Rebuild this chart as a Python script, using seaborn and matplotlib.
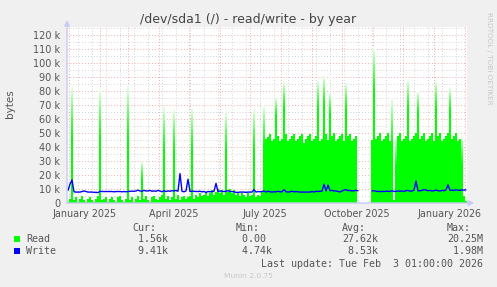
import numpy as np
import pandas as pd
import matplotlib
matplotlib.use("Agg")
import matplotlib.pyplot as plt
import matplotlib.dates as mdates
from matplotlib.patches import Rectangle
import seaborn as sns

# ---------------- data (values in k bytes, one value per 2-day bin) ----------------
bin_start = "2024-12-30"
n_bins = 200
nan = float("nan")

read_k = [
    1, 3, 84, 2, 4, 1, 3, 5, 2, 1,
    3, 4, 2, 1, 3, 5, 82, 2, 3, 4,
    1, 3, 4, 2, 1, 4, 5, 2, 1, 3,
    84, 2, 4, 1, 3, 5, 2, 30, 3, 5,
    2, 1, 4, 5, 3, 2, 4, 6, 69, 3,
    5, 2, 4, 67, 3, 6, 2, 4, 5, 3,
    4, 5, 68, 3, 6, 4, 7, 5, 6, 8,
    5, 7, 9, 6, 8, 10, 7, 9, 6, 66,
    8, 10, 7, 9, 6, 8, 5, 7, 6, 4,
    7, 5, 6, 68, 4, 6, 5, 8, 70, 46,
    47, 49, 44, 46, 75, 48, 44, 46, 87, 49,
    44, 46, 48, 49, 44, 46, 48, 49, 43, 46,
    48, 49, 44, 46, 48, 87, 44, 46, 91, 49,
    45, 79, 48, 50, 44, 46, 48, 49, 44, 86,
    48, 49, 44, 46, 48, 47, nan, nan, nan, nan,
    nan, nan, 45, 111, 46, 48, 50, 44, 46, 48,
    50, 44, 75, 2, 46, 48, 50, 44, 46, 48,
    88, 44, 46, 48, 50, 79, 46, 48, 50, 44,
    46, 48, 50, 44, 88, 48, 50, 44, 46, 48,
    50, 83, 46, 48, 50, 44, 46, 48, 5, 1.56,
]

write_k = [
    9, 13.5, 16.5, 8, 7.8, 7.8, 7.8, 8.2, 8.6, 8.2,
    7.8, 7.8, 7.8, 7.6, 7.6, 7.4, 8.4, 8.2, 8.2, 8.2,
    8.2, 8.2, 8.2, 8.0, 8.2, 8.2, 8.2, 8.0, 8.2, 8.0,
    8.2, 8.4, 8.4, 8.4, 8.6, 9.2, 8.6, 8.4, 9.0, 8.6,
    8.6, 9.0, 8.4, 8.6, 8.4, 9.0, 8.6, 8.0, 8.8, 8.2,
    8.6, 8.4, 8.8, 8.6, 9.0, 8.4, 21, 8.4, 8.0, 8.6,
    17, 8.2, 8.4, 8.4, 8.2, 8.2, 8.4, 8.0, 8.2, 7.6,
    8.2, 8.0, 8.2, 8.4, 14, 8.2, 8.6, 8.4, 8.2, 8.4,
    8.8, 8.2, 8.2, 8.0, 7.6, 7.6, 7.8, 7.8, 7.8, 7.6,
    7.8, 7.8, 7.8, 9.6, 7.8, 8.2, 8.0, 8.2, 8.6, 7.8,
    8.4, 8.0, 7.8, 8.0, 8.0, 8.4, 8.0, 8.0, 9.6, 8.0,
    7.8, 8.0, 8.4, 8.0, 8.2, 8.0, 7.8, 7.8, 7.8, 7.8,
    7.8, 7.8, 8.2, 7.8, 8.4, 8.2, 8.4, 8.4, 13.5, 8.6,
    12.8, 8.8, 9.0, 8.6, 8.6, 8.2, 7.8, 8.6, 9.2, 9.6,
    8.8, 9.0, 8.6, 8.8, 9.0, 8.8, nan, nan, nan, nan,
    nan, nan, 8.6, 8.8, 8.4, 8.2, 8.2, 8.2, 8.2, 8.4,
    8.4, 8.2, 8.8, 8.2, 8.4, 8.6, 8.4, 8.6, 8.2, 8.8,
    9.0, 8.4, 8.6, 9.2, 15.7, 8.6, 8.8, 9.0, 9.6, 9.2,
    8.8, 9.0, 8.6, 8.8, 9.2, 8.8, 8.6, 9.0, 8.8, 9.4,
    13.0, 9.0, 9.2, 9.0, 9.4, 9.2, 9.0, 9.4, 9.2, 9.41,
]

y_ticks_k = [0, 10, 20, 30, 40, 50, 60, 70, 80, 90, 100, 110, 120]
x_label_months = ["2025-01", "2025-04", "2025-07", "2025-10", "2026-01"]
x_label_texts = ["January 2025", "April 2025", "July 2025", "October 2025", "January 2026"]

series_names = ["Read", "Write"]
series_colors = ["#00FF00", "#0000FF"]
stat_headers = ["Cur:", "Min:", "Avg:", "Max:"]
stats_read = [" 1.56k", " 0.00", "27.62k", "20.25M"]
stats_write = [" 9.41k", " 4.74k", " 8.53k", " 1.98M"]
title = "/dev/sda1 (/) - read/write - by year"
last_update = "Last update: Tue Feb  3 01:00:00 2026"

# ---------------- build frame ----------------
starts = pd.date_range(bin_start, periods=n_bins, freq="2D")
centers = starts + pd.Timedelta(days=1)
read = np.array(read_k, dtype=float) * 1000
write = np.array(write_k, dtype=float) * 1000
seg = np.cumsum(np.isnan(write).astype(int))
df = pd.DataFrame({"date": centers, "read": read, "write": write, "seg": seg})
dfw = df.dropna(subset=["write"])

# ---------------- style ----------------
sns.set_theme(style="white")
plt.rcParams["font.family"] = ["DejaVu Sans"]
W, H = 497, 287
BG = "#F0F0F0"
TXT = "#555555"
fig = plt.figure(figsize=(W / 100, H / 100), dpi=100, facecolor=BG)

def fx(x):
    return x / W

def fy(y):
    return 1 - y / H

left, right, top, bottom = 67, 467, 27, 203
ax = fig.add_axes([fx(left), fy(bottom), (right - left) / W, (bottom - top) / H])
ax.set_facecolor("white")
ymax = (bottom - top) / 14 * 10000
x0 = pd.Timestamp(bin_start)
x1 = x0 + pd.Timedelta(days=2 * n_bins)

# grid (behind data)
for yv in range(5000, int(ymax), 5000):
    major = yv % 10000 == 0
    ax.axhline(yv, color="#F2AAAA" if major else "#D4D4D4", lw=0.7,
               ls=(0, (1, 2)), zorder=0.5)
for d in pd.date_range("2025-01-10", x1, freq="14D"):
    ax.axvline(d, color="#D4D4D4", lw=0.7, ls=(0, (1, 2)), zorder=0.5)
month_starts = pd.date_range("2025-01-01", x1, freq="MS")
for d in month_starts:
    ax.axvline(d, color="#F2AAAA", lw=0.7, ls=(0, (1, 2)), zorder=0.6)

# Read area
xs = list(starts) + [x1]
ys = list(read) + [read[-1]]
ax.fill_between(xs, 0, ys, step="post", color=series_colors[0], lw=0, zorder=2)

# fade on spikes
for i in range(n_bins):
    v = read[i]
    if np.isnan(v):
        continue
    nb = [read[j] for j in (i - 1, i + 1) if 0 <= j < n_bins and not np.isnan(read[j])]
    base = min(nb) if nb else 0
    if v - base > 15000:
        fs = base + 0.5 * (v - base)
        grad = np.zeros((64, 1, 4))
        grad[..., :3] = 1.0
        grad[:, 0, 3] = np.linspace(0.97, 0.0, 64) ** 1.3
        e0 = mdates.date2num(starts[i])
        ax.imshow(grad, extent=[e0, e0 + 2, fs, min(v, ymax)], aspect="auto",
                  interpolation="bilinear", zorder=2.5)

# Write line
sns.lineplot(data=dfw, x="date", y="write", units="seg", estimator=None,
             color=series_colors[1], lw=1.0, ax=ax, zorder=3, legend=False)

ax.set_xlim(x0, x1)
ax.set_ylim(0, ymax)
for s in ax.spines.values():
    s.set_visible(False)

# axes lines with arrows
AX = "#C8CCF2"
ax.annotate("", xy=(0, 1.04), xytext=(0, 0), xycoords="axes fraction",
            arrowprops=dict(arrowstyle="-|>", color=AX, lw=1.0, mutation_scale=8,
                            shrinkA=0, shrinkB=0), annotation_clip=False, zorder=5)
ax.annotate("", xy=(1.018, 0), xytext=(0, 0), xycoords="axes fraction",
            arrowprops=dict(arrowstyle="-|>", color=AX, lw=1.0, mutation_scale=8,
                            shrinkA=0, shrinkB=0), annotation_clip=False, zorder=5)

# ticks
ax.set_yticks([v * 1000 for v in y_ticks_k])
ax.set_yticklabels(["0" if v == 0 else f"{v} k" for v in y_ticks_k])
label_pos = [pd.Timestamp(m + "-16") for m in x_label_months]
ax.set_xticks(label_pos)
ax.set_xticklabels(x_label_texts)
ax.set_xticks(month_starts, minor=True)
ax.tick_params(axis="y", length=0, pad=5, labelsize=7, labelcolor=TXT)
ax.tick_params(axis="x", which="major", length=0, pad=4, labelsize=6.9, labelcolor=TXT)
ax.tick_params(axis="x", which="minor", length=2.5, width=0.7, color="#F08080", direction="out")
ax.set_xlabel("")
ax.set_ylabel("")

# texts
fig.text(fx(248), fy(19), title, ha="center", va="center", fontsize=9, color="#444444")
fig.text(fx(10), fy(104), "bytes", ha="center", va="center", rotation=90, fontsize=7.5, color=TXT)
fig.text(fx(489), fy(12), "RRDTOOL / TOBI OETIKER", ha="center", va="top", rotation=270,
         fontsize=5.2, color="#C8C8C8")
fig.text(fx(248), fy(276), "Munin 2.0.75", ha="center", va="center", fontsize=5.4, color="#C8C8C8")

mono = dict(family="DejaVu Sans Mono", fontsize=7.2, color=TXT, va="center", ha="left")
col_x = [132, 236, 342, 447]
for cx, h in zip(col_x, stat_headers):
    fig.text(fx(cx), fy(228), h, **mono)
for row_y, name, col, stats in [(239, series_names[0], series_colors[0], stats_read),
                                (251, series_names[1], series_colors[1], stats_write)]:
    fig.patches.append(Rectangle((fx(14), fy(row_y + 3)), 6 / W, 6 / H, transform=fig.transFigure,
                                 facecolor=col, edgecolor="none", figure=fig))
    fig.text(fx(26), fy(row_y), name, **mono)
    for cx, s in zip(col_x, stats):
        fig.text(fx(cx), fy(row_y), s, **mono)
fig.text(fx(483), fy(264), last_update, **{**mono, "ha": "right"})

fig.savefig("out.png", dpi=100, facecolor=BG)
